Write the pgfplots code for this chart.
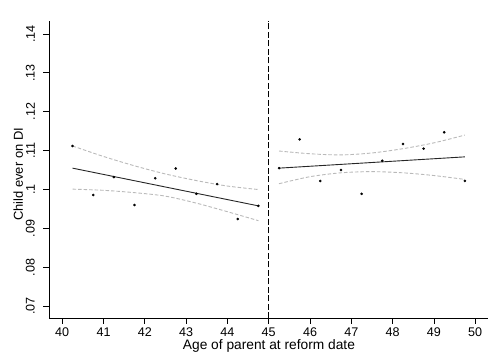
\documentclass[border=0pt]{standalone}
\usepackage{fontspec}
\setmainfont{Liberation Sans}
\usepackage{pgfplots}
\pgfplotsset{compat=1.18}
\pgfplotstableread{
x y
40.25 0.1112
40.75 0.0986
41.25 0.1032
41.75 0.0960
42.25 0.1029
42.75 0.1054
43.25 0.0989
43.75 0.1014
44.25 0.0924
44.75 0.0958
}\leftpts
\pgfplotstableread{
x y
45.25 0.1055
45.75 0.1129
46.25 0.1022
46.75 0.1050
47.25 0.0989
47.75 0.1074
48.25 0.1117
48.75 0.1105
49.25 0.1147
49.75 0.1022
}\rightpts
\begin{document}
\begin{tikzpicture}
\begin{axis}[
  scale only axis, width=439bp, height=297.6bp,
  xmin=39.68, xmax=50.31, ymin=0.0669, ymax=0.1434,
  axis x line*=bottom, axis y line*=left,
  axis line style={line width=0.8bp, -, black},
  xtick={40,41,42,43,44,45,46,47,48,49,50},
  ytick={0.07,0.08,0.09,0.10,0.11,0.12,0.13,0.14},
  yticklabels={.07,.08,.09,.1,.11,.12,.13,.14},
  tick align=outside, major tick length=5.5bp,
  tick style={line width=0.8bp, black},
  /pgf/number format/assume math mode=true,
  tick label style={font=\fontsize{12.6}{15}\selectfont, inner sep=0pt},
  xticklabel style={anchor=north},
  yticklabel style={rotate=90, anchor=south},
  xticklabel shift=4bp,
  yticklabel shift=8.5bp,
  xlabel={Age of parent at reform date},
  ylabel={Child ever on DI},
  xlabel style={font=\fontsize{13.8}{16}\selectfont, at={(axis description cs:0.501,-0.1048)}, anchor=base, inner sep=0pt},
  ylabel style={font=\fontsize{13}{16}\selectfont, at={(axis description cs:-0.0699,0.4835)}, anchor=center, inner sep=0pt},
  clip=false,
]
\coordinate (O) at (rel axis cs:0,0);
\coordinate (T) at (rel axis cs:1,1);
% CI bands
\addplot[gray!55, line width=0.9bp, dash pattern=on 3.5bp off 2bp, smooth] coordinates {(40.25,0.1112)(41,0.1085)(41.75,0.1061)(42.5,0.1040)(43.25,0.1023)(44,0.1009)(44.75,0.1000)};
\addplot[gray!55, line width=0.9bp, dash pattern=on 3.5bp off 2bp, smooth] coordinates {(40.25,0.1001)(41,0.0998)(41.75,0.0992)(42.5,0.0983)(43.25,0.0965)(44,0.0943)(44.75,0.0920)};
\addplot[gray!55, line width=0.9bp, dash pattern=on 3.5bp off 2bp, smooth] coordinates {(45.25,0.1099)(46,0.1092)(46.75,0.1089)(47.5,0.1094)(48.25,0.1105)(49,0.1120)(49.75,0.1140)};
\addplot[gray!55, line width=0.9bp, dash pattern=on 3.5bp off 2bp, smooth] coordinates {(45.25,0.1015)(46,0.1033)(46.75,0.1043)(47.5,0.1046)(48.25,0.1043)(49,0.1036)(49.75,0.1026)};
% fitted lines
\addplot[black!85, line width=0.9bp] coordinates {(40.25,0.1055)(44.75,0.0958)};
\addplot[black!85, line width=0.9bp] coordinates {(45.25,0.1055)(49.75,0.1084)};
% points
\addplot[only marks, mark=*, mark size=1.1bp, black] table {\leftpts};
\addplot[only marks, mark=*, mark size=1.1bp, black] table {\rightpts};
% cutoff
\addplot[black, line width=0.9bp, dash pattern=on 6bp off 2.5bp] coordinates {(45,0.0669)(45,0.1434)};
\end{axis}
\pgfresetboundingbox
\path[use as bounding box] ([shift={(-49bp,-39.7bp)}]O) rectangle ([shift={(14bp,20.7bp)}]T);
\end{tikzpicture}
\end{document}
